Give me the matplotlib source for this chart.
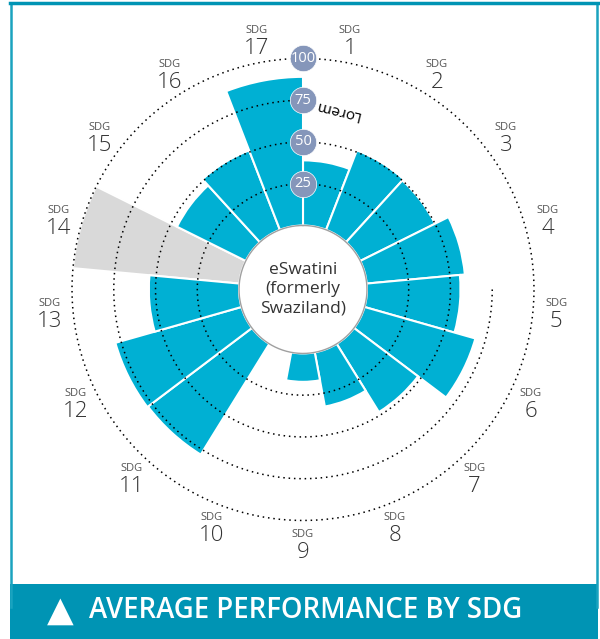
import numpy as np
import matplotlib.pyplot as plt
from matplotlib.patches import Rectangle

# data
sdg_ids = list(range(1, 18))
scores = [39, 51, 50, 59, 56, 69, 48, 33, 17, 0, 78, 78.5, 54, np.nan, 46, 51, 89]
ring_values = [25, 50, 75, 100]
country = 'eSwatini\n(formerly\nSwaziland)'
title = 'AVERAGE PERFORMANCE BY SDG'

bar_color = '#00b0d3'
nodata_color = '#d9d9d9'
marker_color = '#8596ba'
footer_color = '#0094b4'
frame_color = '#1aa3bf'

fig = plt.figure(figsize=(6, 6.39), dpi=100, facecolor='white')

# frame and footer band
fig.add_artist(Rectangle((10 / 600, 0), 588 / 600, 55 / 639, transform=fig.transFigure,
                         facecolor=footer_color, edgecolor='none'))
fig.add_artist(plt.Line2D([11 / 600, 11 / 600], [0.05, 1 - 3 / 639], transform=fig.transFigure,
                          color=frame_color, lw=1.8))
fig.add_artist(plt.Line2D([597 / 600, 597 / 600], [0.05, 1 - 3 / 639], transform=fig.transFigure,
                          color=frame_color, lw=1.8))
fig.add_artist(plt.Line2D([10 / 600, 598 / 600], [1 - 3 / 639, 1 - 3 / 639], transform=fig.transFigure,
                          color=footer_color, lw=2.5))
fig.text(60 / 600, 1 - 611 / 639, '\u25b2', color='white', fontsize=25, ha='center', va='center',
         family=['DejaVu Sans'])
fig.text(89 / 600, 1 - 611 / 639, title, color='white', fontsize=19.8, fontweight='semibold',
         ha='left', va='center', family=['Open Sans', 'DejaVu Sans'])

# polar axes: 100-ring radius 231 px, centre at (303, 289.5)
ax = fig.add_axes([0.12, 0.1855, 0.77, 0.723], projection='polar')
ax.set_theta_zero_location('N')
ax.set_theta_direction(-1)
ax.set_ylim(0, 100)
ax.set_rorigin(-38.3)
ax.axis('off')

n = len(sdg_ids)
width = 2 * np.pi / n
theta = np.arange(n) * width + width / 2

vals = np.array(scores, dtype=float)
has = ~np.isnan(vals)
ax.bar(theta[has], vals[has], width=width, bottom=0, color=bar_color,
       edgecolor='white', linewidth=1.5, zorder=2)
ax.bar(theta[~has], [100] * int((~has).sum()), width=width, bottom=0, color=nodata_color,
       edgecolor='white', linewidth=1.5, zorder=1)

# dotted rings
full = np.linspace(0, 2 * np.pi, 400)
for rv in ring_values:
    t = full if rv != 75 else np.linspace(np.pi / 2, 2 * np.pi, 300)
    ax.plot(t, np.full_like(t, rv), color='black', lw=1.1, ls=(0, (1, 2.5)),
            zorder=3, clip_on=False)

# inner circle outline
ax.plot(full, np.zeros_like(full), color='#a0a0a0', lw=1, zorder=4, clip_on=False)

# ring value markers
for rv in ring_values:
    ax.plot([0], [rv], marker='o', ms=19, color=marker_color, mec='white', mew=0.5,
            zorder=5, clip_on=False)
    ax.text(0, rv, str(rv), color='white', fontsize=10.5, ha='center', va='center',
            zorder=6, family=['Open Sans', 'DejaVu Sans'])

ax.text(np.deg2rad(10.7), 71, 'Lorem', rotation=166, fontsize=11, ha='center', va='center',
        color='black', family=['Open Sans', 'DejaVu Sans'])

# outer labels
for t, sid in zip(theta, sdg_ids):
    ax.annotate('SDG', xy=(t, 114), xytext=(0, 9), textcoords='offset pixels',
                ha='center', va='center', fontsize=8, color='#555555',
                family=['Open Sans', 'DejaVu Sans'], annotation_clip=False)
    ax.annotate(str(sid), xy=(t, 114), xytext=(0, -9), textcoords='offset pixels',
                ha='center', va='center', fontsize=16, color='#333333',
                family=['Open Sans', 'DejaVu Sans'], fontweight='light', annotation_clip=False)

ax.text(0, -38.3, country, ha='center', va='center', fontsize=12.5, color='#333333',
        linespacing=1.25, family=['Open Sans', 'DejaVu Sans'], zorder=6)

fig.savefig('out.png', dpi=100, facecolor='white')
